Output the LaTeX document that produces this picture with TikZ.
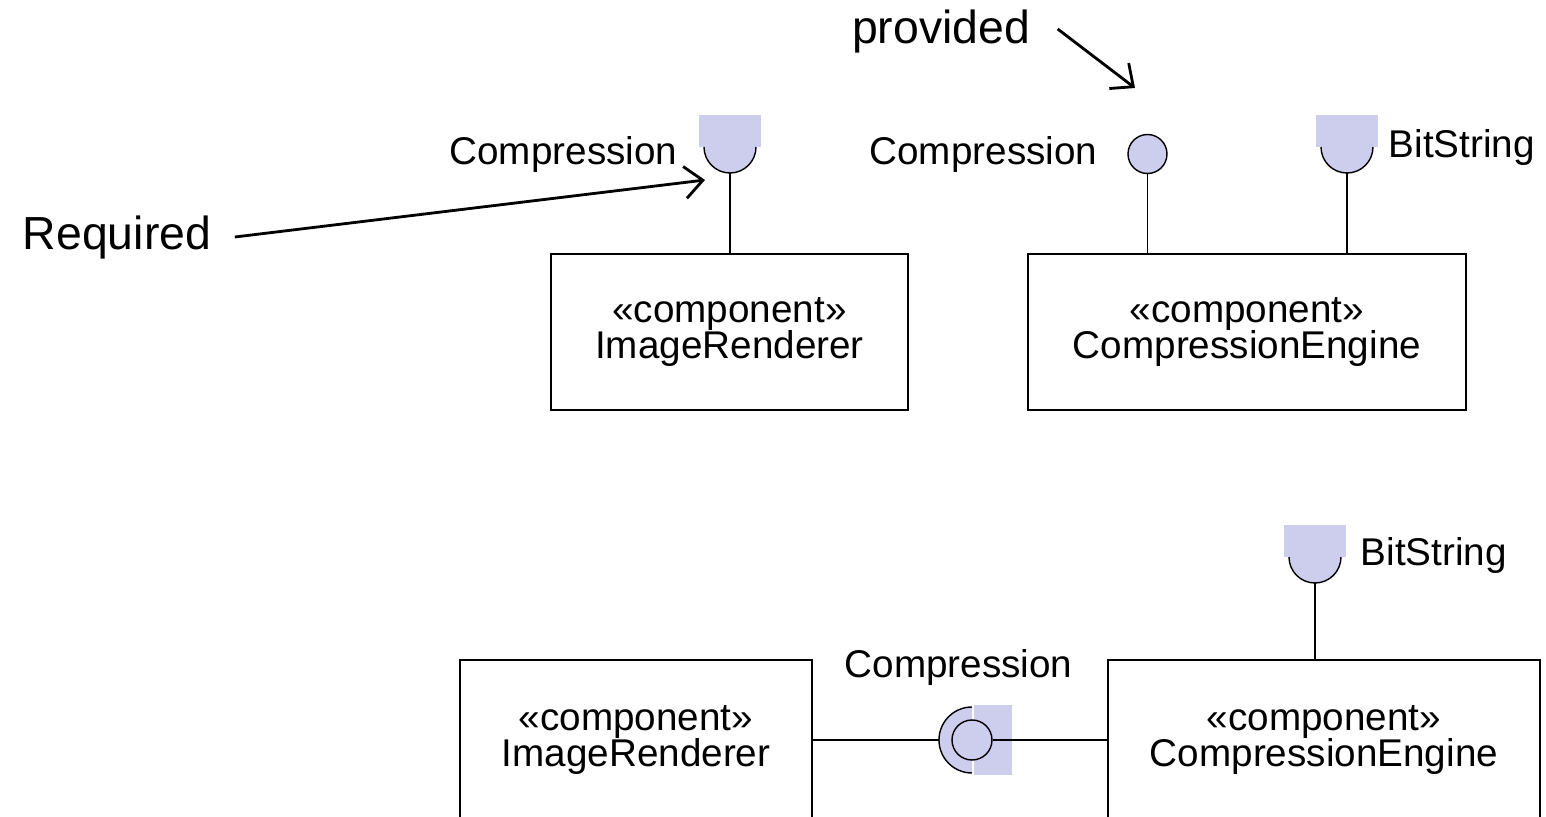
\documentclass[tikz,border=0pt]{standalone}
\usepackage{fontspec}
\setmainfont{Liberation Sans}
\usetikzlibrary{positioning, arrows.meta}
\definecolor{lavender}{RGB}{205,205,238}
\tikzset{
	line width=0.6pt, % thin lines as in the original
	component/.style={draw, rectangle, minimum height=1.56cm, align=center, inner sep=0pt, font={\fontsize{11}{10.4}\selectfont\lineskiplimit=-20pt}}, % the component boxes
	iface/.style={inner sep=0pt, font=\fontsize{11}{13}\selectfont}, % interface names
	note/.style={inner sep=0pt, font=\fontsize{13.2}{15}\selectfont}, % the two remarks
	pointer/.style={line width=0.8pt, -{Straight Barb[length=1.8mm,width=3.2mm]}}, % arrows of the remarks
	ball/.style={circle, draw, fill=lavender, inner sep=0pt}, % provided interface
	socket/.pic={ % required interface, opening upwards
		\fill[lavender] (-0.31,0) rectangle (0.31,0.32);
		\filldraw[fill=lavender] (-0.26,0) arc[start angle=180, end angle=360, radius=0.26];
		\coordinate (-end) at (0,-0.26);
	},
}
\begin{document}
\begin{tikzpicture}
	\useasboundingbox (0,0) rectangle (15.46,8.16);
	% upper half: separate components
	\node[component, minimum width=3.57cm] (ir) at (7.295,4.84) {«component»\\ImageRenderer};
	\node[component, minimum width=4.38cm] (ce) at (12.47,4.84) {«component»\\CompressionEngine};
	\pic (req) at (7.30,6.69) {socket};
	\pic (bits) at (13.47,6.69) {socket};
	\node[ball, minimum size=0.39cm] (prov) at (11.475,6.62) {};
	\draw (req-end) -- (req-end |- ir.north);
	\draw (prov) -- (prov |- ce.north);
	\draw (bits-end) -- (bits-end |- ce.north);
	\node[iface, anchor=east] (reqname) at (6.78,6.61) {Compression};
	\node[iface, anchor=east] (provname) at (10.98,6.61) {Compression};
	\node[iface, anchor=west] (bitsname) at (13.88,6.68) {BitString};
	% remarks
	\node[note] (required) at (1.17,5.78) {Required};
	\node[note] (provided) at (9.41,7.84) {provided};
	\coordinate (reqtip) at (7.05,6.36);
	\coordinate (provtip) at (11.35,7.28);
	\draw[pointer] ([xshift=2.3mm,yshift=0.1mm]required.east) -- (reqtip);
	\draw[pointer] ([xshift=2.7mm,yshift=0.3mm]provided.east) -- (provtip);
	% lower half: assembled components
	\node[component, minimum width=3.52cm, minimum height=1.60cm] (bir) at (6.36,0.76) {«component»\\ImageRenderer};
	\node[component, minimum width=4.32cm, minimum height=1.60cm] (bce) at (13.24,0.76) {«component»\\CompressionEngine};
	\pic (bbits) at (13.15,2.59) {socket};
	\draw (bbits-end) -- (bbits-end |- bce.north);
	\node[iface, anchor=west] (bbitsname) at (13.60,2.60) {BitString};
	\fill[lavender] (9.72,0.76) ++(0,0.33) arc[start angle=90, end angle=270, radius=0.33] -- cycle;
	\fill[lavender] (9.74,0.41) rectangle (10.12,1.11);
	\draw (9.72,0.76) ++(0,0.33) arc[start angle=90, end angle=270, radius=0.33];
	\node[ball, minimum size=0.40cm] (asm) at (9.72,0.76) {};
	\coordinate (asmleft) at (9.39,0.76);
	\draw (bir.east) -- (asmleft);
	\draw (asm) -- (bce.west);
	\node[iface] (asmname) at (9.585,1.48) {Compression};
\end{tikzpicture}
\end{document}
